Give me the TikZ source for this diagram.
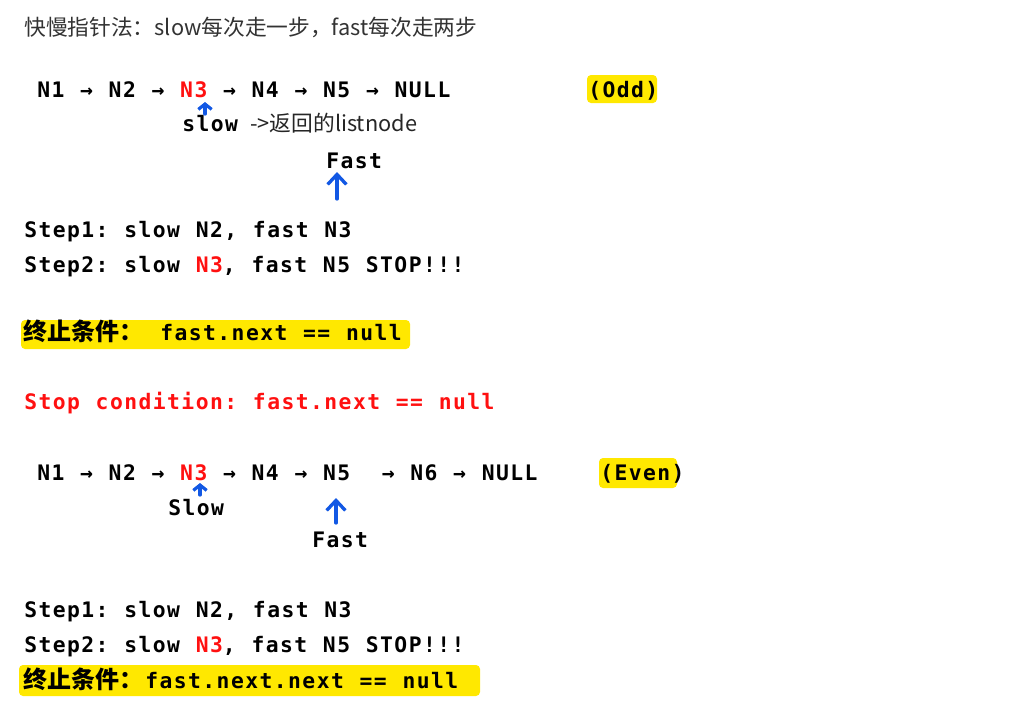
\documentclass[tikz,border=0pt]{standalone}
\usepackage{fontspec}
\usepackage{xcolor}
\usetikzlibrary{arrows.meta,positioning}

\newfontfamily\codefam{DejaVu Sans Mono}[LetterSpace=6.8]
\newfontfamily\cjkfam{Noto Sans CJK SC}
\newcommand\codefont{\codefam\bfseries\fontsize{16}{19}\selectfont\frenchspacing\spaceskip=11.81pt\relax}

\definecolor{hlyellow}{RGB}{255,232,0}
\definecolor{ptrblue}{RGB}{18,88,228}
\definecolor{titlegray}{RGB}{51,51,51}
\definecolor{hotred}{RGB}{255,16,16}

\begin{document}
\begin{tikzpicture}[x=0.75pt, y=-0.75pt,
        code/.style={anchor=base west, inner sep=0pt, font=\codefont, text=black},
        note/.style={anchor=base west, inner sep=0pt, font=\cjkfam\fontsize{16.3}{19}\selectfont},
        cond/.style={anchor=base west, inner sep=0pt, font=\cjkfam\bfseries\fontsize{18}{21}\selectfont},
        hl/.style={fill=hlyellow, rounded corners=3pt},
        ptr/.style={ptrblue, line width=2.5pt, line cap=round, -{Straight Barb[length=7.5pt,width=14pt]}},
        ptrsmall/.style={ptrblue, line width=2.4pt, line cap=round, -{Straight Barb[length=4pt,width=10pt]}}
    ]
    \useasboundingbox (0,0) rectangle (1009,711);
    \fill[white] (0,0) rectangle (1009,711);
    % Marker
    \fill[hl] (587,75) rectangle (657,103);
    \fill[hl] (21,320) rectangle (410,349);
    \fill[hl] (599,458) rectangle (677,488);
    \fill[hl] (19,665) rectangle (480,696);
    % Titel
    \node[note, text=titlegray] (title) at (24,35) {快慢指针法：slow每次走一步，fast每次走两步};
    % Odd
    \node[code] (oddlist) at (37,97) {N1 → N2 → \textcolor{hotred}{N3} → N4 → N5 → NULL};
    \node[code] (oddtag) at (588,97) {(Odd)};
    \node[code] (oddslow) at (182,131) {slow};
    \node[note, text=black!85] (oddret) at (250,131) {->返回的listnode};
    \node[code] (oddfast) at (326,168) {Fast};
    \node[code] (oddstep1) at (24,237) {Step1: slow N2, fast N3};
    \node[code] (oddstep2) at (24,272) {Step2: slow \textcolor{hotred}{N3}, fast N5 STOP!!!};
    \node[cond] (oddcondzh) at (23,340) {终止条件：};
    \node[code] (oddcond) at (160,340) {fast.next == null};
    \node[code, text=hotred] (stopcond) at (24,409) {Stop condition: fast.next == null};
    % Even
    \node[code] (evenlist) at (37,480) {N1 → N2 → \textcolor{hotred}{N3} → N4 → N5 \ → N6 → NULL};
    \node[code] (eventag) at (600,480) {(Even)};
    \node[code] (evenslow) at (168,515) {Slow};
    \node[code] (evenfast) at (312,547) {Fast};
    \node[code] (evenstep1) at (24,617) {Step1: slow N2, fast N3};
    \node[code] (evenstep2) at (24,652) {Step2: slow \textcolor{hotred}{N3}, fast N5 STOP!!!};
    \node[cond] (evencondzh) at (23,688) {终止条件：};
    \node[code] (evencond) at (145,688) {fast.next.next == null};
    % Zeiger
    \coordinate (oddslowtail) at (205,114);
    \coordinate (oddslowtip) at (205,102);
    \coordinate (oddfasttail) at (337,199);
    \coordinate (oddfasttip) at (337,172);
    \coordinate (evenslowtail) at (200,495);
    \coordinate (evenslowtip) at (200,483);
    \coordinate (evenfasttail) at (336,523);
    \coordinate (evenfasttip) at (336,498);
    \draw[ptrsmall] (oddslowtail) -- (oddslowtip);
    \draw[ptr] (oddfasttail) -- (oddfasttip);
    \draw[ptrsmall] (evenslowtail) -- (evenslowtip);
    \draw[ptr] (evenfasttail) -- (evenfasttip);
\end{tikzpicture}
\end{document}
